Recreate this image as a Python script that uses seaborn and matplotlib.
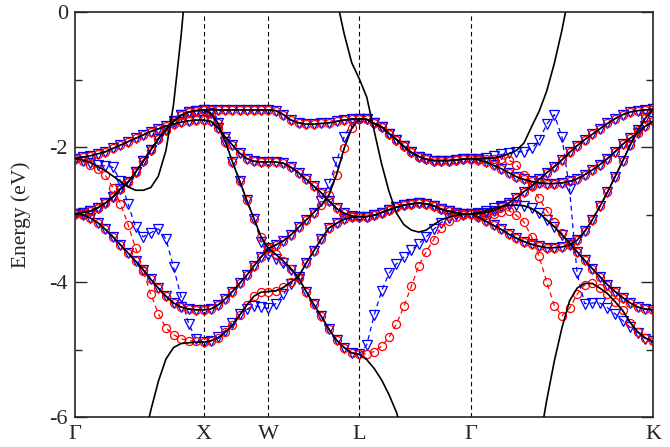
import numpy as np
import pandas as pd
import matplotlib

matplotlib.use("Agg")
import matplotlib.pyplot as plt
import seaborn as sns

nan = np.nan

# -------------------------
# k path
# -------------------------
sym_labels = ["Γ", "X", "W", "L", "Γ", "K"]
sym_k = [0.0, 1.0, 1.5, 2.2071, 3.0731, 4.4873]
seg_n = [17, 9, 12, 15, 24]

# -------------------------
# Gamma - X   (18 values)
# -------------------------
gx_d5 = [-2.99, -2.97, -2.95, -2.90, -2.83, -2.74, -2.62, -2.52, -2.37, -2.21, -2.04, -1.88, -1.74, -1.62, -1.53, -1.48, -1.46, -1.45]
gx_d2 = [-2.17, -2.15, -2.13, -2.10, -2.07, -2.02, -1.97, -1.92, -1.87, -1.82, -1.77, -1.73, -1.69, -1.66, -1.63, -1.61, -1.60, -1.60]
gx_d2p = [-2.99, -3.00, -3.05, -3.12, -3.22, -3.33, -3.45, -3.57, -3.69, -3.82, -3.96, -4.09, -4.21, -4.31, -4.37, -4.40, -4.41, -4.41]
gx_d1_red = [-2.17, -2.21, -2.26, -2.33, -2.42, -2.60, -2.84, -3.15, -3.50, -3.84, -4.18, -4.47, -4.68, -4.78, -4.84, -4.87, -4.88, -4.89]
gx_d1_blue = [-2.17, -2.20, -2.24, -2.27, -2.28, -2.30, -2.50, -2.84, -3.19, -3.33, -3.27, -3.21, -3.36, -3.78, -4.22, -4.62, -4.85, -4.89]
gx_s_up = [-2.17, -2.19, -2.23, -2.29, -2.35, -2.43, -2.51, -2.59, -2.64, -2.64, -2.60, -2.43, -2.05, -1.37, -0.35, 0.9, nan, nan]
gx_s_low = [nan, nan, nan, nan, nan, nan, nan, nan, nan, -6.4, -5.9, -5.47, -5.14, -4.97, -4.91, -4.90, -4.89, -4.89]

# -------------------------
# X - W   (10 values)
# -------------------------
xw_top = [-1.45, -1.45, -1.45, -1.45, -1.45, -1.45, -1.45, -1.45, -1.45, -1.45]
xw_steep = [-1.45, -1.50, -1.65, -1.92, -2.22, -2.50, -2.79, -3.06, -3.33, -3.50]
xw_steep_blue = [-1.45, -1.50, -1.65, -1.92, -2.22, -2.50, -2.79, -3.06, -3.40, -3.60]
xw_mid = [-1.60, -1.62, -1.72, -1.85, -1.97, -2.09, -2.17, -2.21, -2.22, -2.22]
xw_x3 = [-4.41, -4.40, -4.34, -4.25, -4.14, -4.02, -3.90, -3.76, -3.63, -3.50]
xw_x1 = [-4.89, -4.87, -4.83, -4.74, -4.64, -4.49, -4.34, -4.21, -4.15, -4.14]
xw_x1_blue = [-4.89, -4.87, -4.82, -4.72, -4.60, -4.48, -4.40, -4.35, -4.37, -4.39]

# -------------------------
# W - L   (13 values)
# -------------------------
wl_top = [-1.45, -1.46, -1.52, -1.60, -1.64, -1.66, -1.66, -1.65, -1.64, -1.62, -1.60, -1.59, -1.58]
wl_fall = [-3.50, -3.59, -3.69, -3.80, -3.94, -4.14, -4.33, -4.51, -4.70, -4.86, -4.97, -5.05, -5.07]
wl_fall_blue = [-3.60, -3.66, -3.72, -3.82, -3.95, -4.14, -4.33, -4.51, -4.70, -4.86, -4.97, -5.05, -5.07]
wl_mid = [-2.22, -2.22, -2.24, -2.30, -2.38, -2.48, -2.58, -2.68, -2.80, -2.91, -2.98, -3.02, -3.03]
wl_rise = [-3.50, -3.45, -3.39, -3.30, -3.19, -3.08, -2.97, -2.86, -2.71, -2.41, -2.02, -1.72, -1.58]
wl_rise_blue = [-3.50, -3.45, -3.39, -3.30, -3.19, -3.08, -2.97, -2.80, -2.55, -2.22, -1.85, -1.65, -1.58]
wl_low = [-4.14, -4.13, -4.08, -4.00, -3.92, -3.72, -3.54, -3.36, -3.20, -3.13, -3.07, -3.04, -3.03]
wl_low_blue = [-4.39, -4.32, -4.18, -4.03, -3.92, -3.72, -3.54, -3.36, -3.20, -3.13, -3.07, -3.04, -3.03]
wl_s = [nan, nan, nan, nan, nan, nan, nan, nan, nan, 0.2, -0.32, -0.75, -0.99]

# -------------------------
# L - Gamma   (16 values)
# -------------------------
lg_top = [-1.58, -1.59, -1.65, -1.70, -1.80, -1.89, -1.99, -2.08, -2.14, -2.18, -2.20, -2.20, -2.20, -2.19, -2.18, -2.17]
lg_mid = [-3.03, -3.03, -3.01, -2.97, -2.93, -2.89, -2.86, -2.84, -2.83, -2.84, -2.87, -2.92, -2.95, -2.97, -2.99, -2.99]
lg_l1_red = [-5.07, -5.06, -5.03, -4.95, -4.82, -4.62, -4.36, -4.06, -3.76, -3.55, -3.37, -3.20, -3.09, -3.03, -3.00, -2.99]
lg_l1_blue = [-5.07, -4.93, -4.49, -4.13, -3.87, -3.73, -3.63, -3.53, -3.43, -3.33, -3.22, -3.12, -3.05, -3.01, -3.00, -2.99]
lg_l1_dft = [-5.07, -5.15, -5.28, -5.45, -5.67, -5.93, -6.3, nan, nan, nan, nan, nan, nan, nan, nan, nan]
lg_s = [-0.99, -1.26, -1.76, -2.25, -2.66, -2.98, -3.15, -3.23, -3.26, -3.23, -3.15, -3.08, -3.04, -3.01, -3.00, -2.99]

# -------------------------
# Gamma - K   (25 values)
# -------------------------
gk_valley = [-2.17, -2.19, -2.22, -2.27, -2.32, -2.38, -2.44, -2.48, -2.51, -2.53, -2.54, -2.54, -2.53,
             -2.51, -2.47, -2.41, -2.34, -2.26, -2.17, -2.07, -1.96, -1.87, -1.79, -1.69, -1.62]
gk_rise = [-2.99, -2.99, -2.97, -2.94, -2.89, -2.83, -2.75, -2.66, -2.58, -2.48, -2.38, -2.29, -2.19,
           -2.08, -1.98, -1.89, -1.81, -1.73, -1.65, -1.58, -1.52, -1.48, -1.46, -1.45, -1.44]
gk_dip = [-2.99, -3.04, -3.10, -3.16, -3.22, -3.29, -3.35, -3.40, -3.44, -3.47, -3.49, -3.49, -3.48,
          -3.45, -3.38, -3.25, -3.08, -2.88, -2.67, -2.44, -2.21, -1.97, -1.75, -1.57, -1.44]
gk_fall = [-2.99, -2.97, -2.94, -2.91, -2.88, -2.86, -2.86, -2.87, -2.91, -2.98, -3.08, -3.18, -3.30,
           -3.42, -3.55, -3.68, -3.80, -3.92, -4.04, -4.14, -4.23, -4.31, -4.37, -4.40, -4.41]
gk_red_a = [-2.17, -2.17, -2.17, -2.17, -2.17, -2.19, -2.26, -2.41, -2.58, -2.76, -2.94, -3.11, -3.28,
            -3.42, -3.55, -3.68, -3.80, -3.92, -4.04, -4.14, -4.23, -4.31, -4.37, -4.40, -4.41]
gk_red_b = [-2.99, -3.00, -3.00, -2.99, -2.96, -2.94, -3.01, -3.11, -3.33, -3.62, -4.00, -4.35, -4.50,
            -4.39, -4.18, -4.04, -4.02, -4.09, -4.17, -4.29, -4.42, -4.60, -4.74, -4.83, -4.88]
gk_blue_a = [-2.17, -2.17, -2.16, -2.13, -2.11, -2.09, -2.07, -2.07, -2.02, -1.90, -1.66, -1.52, -1.85,
             -2.62, -3.87, -4.32, -4.31, -4.31, -4.38, -4.47, -4.57, -4.67, -4.76, -4.84, -4.88]
gk_s_up = [-2.17, -2.17, -2.17, -2.16, -2.14, -2.10, -2.05, -1.94, -1.70, -1.47, -1.17, -0.76, -0.27,
           0.3, nan, nan, nan, nan, nan, nan, nan, nan, nan, nan, nan]
gk_s_low = [nan, nan, nan, nan, nan, nan, nan, nan, nan, -6.4, -5.75, -5.17, -4.68,
            -4.28, -4.09, -4.02, -4.02, -4.09, -4.17, -4.29, -4.42, -4.60, -4.74, -4.83, -4.88]

# -------------------------
# Build k axis and bands
# -------------------------
k = np.concatenate([np.linspace(sym_k[j], sym_k[j + 1], n + 1)[(1 if j else 0):]
                    for j, n in enumerate(seg_n)])


def join(*pieces):
    out = []
    for j, p in enumerate(pieces):
        vals = [nan] * (seg_n[j] + 1) if p is None else list(p)
        out += vals if j == 0 else vals[1:]
    return np.array(out, dtype=float)


red_bands = [
    join(gx_d5, xw_top, wl_top, lg_top, gk_valley),
    join(gx_d5, xw_steep, wl_fall, lg_l1_red, gk_rise),
    join(gx_d2, xw_mid, wl_mid, lg_mid, gk_dip),
    join(gx_d2p, xw_x3, wl_rise, lg_top, gk_red_a),
    join(gx_d1_red, xw_x1, wl_low, lg_mid, gk_red_b),
]
blue_bands = [
    join(gx_d5, xw_top, wl_top, lg_top, gk_valley),
    join(gx_d5, xw_steep_blue, wl_fall_blue, lg_l1_blue, gk_rise),
    join(gx_d2, xw_mid, wl_mid, lg_mid, gk_dip),
    join(gx_d2p, xw_x3, wl_rise_blue, lg_top, gk_blue_a),
    join(gx_d1_blue, xw_x1_blue, wl_low_blue, lg_mid, gk_fall),
]
dft_bands = [
    join(gx_d5, xw_top, wl_top, lg_top, gk_valley),
    join(gx_d5, xw_steep, wl_fall, lg_l1_dft, None),
    join(gx_d2, xw_mid, wl_mid, lg_mid, gk_dip),
    join(gx_d2p, xw_x3, wl_rise, lg_top, gk_s_up),
    join(gx_s_low, xw_x1, wl_low, lg_mid, gk_fall),
    join(gx_s_up, None, None, None, None),
    join(None, None, wl_s, lg_s, gk_rise),
    join(None, None, None, None, gk_s_low),
]


def to_frame(bands, name):
    rows = []
    for b, vals in enumerate(bands):
        unit, prev = 0, False
        for kk, e in zip(k, vals):
            if np.isfinite(e):
                if not prev:
                    unit += 1
                rows.append((kk, e, f"{name}{b}_{unit}"))
                prev = True
            else:
                prev = False
    return pd.DataFrame(rows, columns=["k", "E", "line"])


dft_df = to_frame(dft_bands, "dft")
red_df = to_frame(red_bands, "red")
blue_df = to_frame(blue_bands, "blue")

# -------------------------
# Plot
# -------------------------
sns.set_style("ticks")
plt.rcParams["font.family"] = ["Liberation Serif", "DejaVu Serif"]
plt.rcParams["axes.unicode_minus"] = False

fig, ax = plt.subplots(figsize=(6.7, 4.47), dpi=100)
fig.subplots_adjust(left=0.112, right=0.9746, top=0.973, bottom=0.067)

for xv in sym_k[1:-1]:
    ax.axvline(xv, color="black", linewidth=0.8, linestyle=(0, (4, 3)), zorder=1)

sns.lineplot(data=blue_df, x="k", y="E", units="line", estimator=None, sort=False,
             color="blue", linewidth=0.9, linestyle=(0, (4, 3)), marker="v",
             markersize=7.5, markerfacecolor="none", markeredgecolor="blue",
             markeredgewidth=0.9, legend=False, ax=ax, zorder=2)
sns.lineplot(data=red_df, x="k", y="E", units="line", estimator=None, sort=False,
             color="red", linewidth=0.9, linestyle=(0, (4, 3)), marker="o",
             markersize=5.8, markerfacecolor="none", markeredgecolor="red",
             markeredgewidth=0.9, legend=False, ax=ax, zorder=3)
sns.lineplot(data=dft_df, x="k", y="E", units="line", estimator=None, sort=False,
             color="black", linewidth=1.2, legend=False, ax=ax, zorder=4)

ax.set_xlim(sym_k[0], sym_k[-1])
ax.set_ylim(-6, 0)
ax.set_xticks(sym_k)
ax.set_xticklabels(sym_labels, fontsize=16)
ax.set_yticks([-6, -4, -2, 0])
ax.set_yticks([-5, -3, -1], minor=True)
ax.tick_params(axis="y", which="both", direction="in", right=True, labelsize=16, pad=5)
ax.tick_params(axis="y", which="major", length=8.5, width=1.0)
ax.tick_params(axis="y", which="minor", length=5, width=1.0)
ax.tick_params(axis="x", length=0, pad=6)
ax.set_xlabel("")
ax.set_ylabel("Energy (eV)", fontsize=15.5)
ax.yaxis.set_label_coords(-0.076, 0.5)
for sp in ax.spines.values():
    sp.set_linewidth(1.2)

fig.savefig("out.png", dpi=100)
